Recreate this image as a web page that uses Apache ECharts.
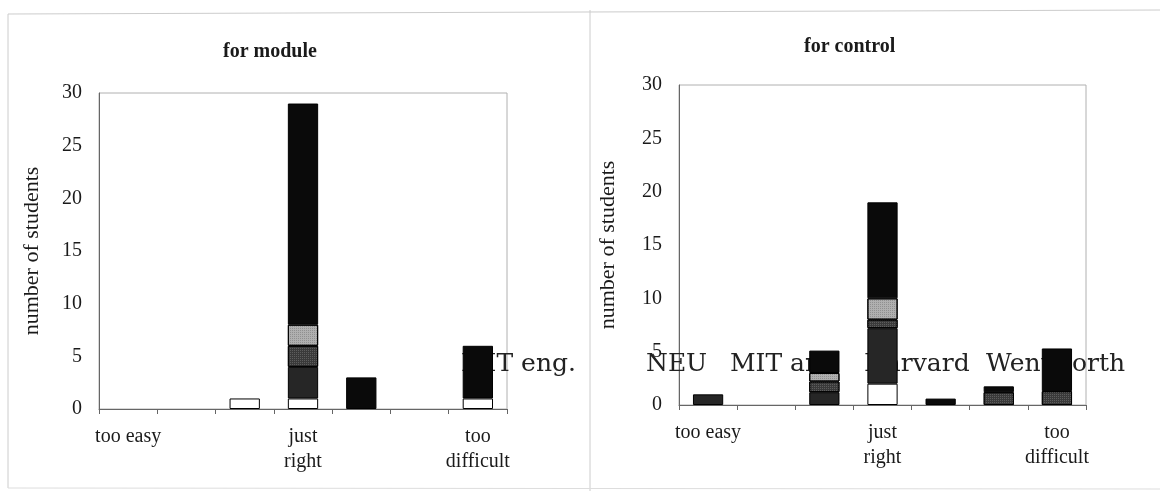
<!DOCTYPE html>
<html>
<head>
<meta charset="utf-8">
<script src="https://cdn.jsdelivr.net/npm/echarts@6/dist/echarts.min.js"></script>
<style>
  html, body { margin: 0; padding: 0; background: #fff; }
  #chart { width: 1160px; height: 491px; }
</style>
</head>
<body>
<div id="chart"></div>
<script>
// 7-point scale, only three points carry a label
const categories = ['too easy', '', '', 'just\nright', '', '', 'too\ndifficult'];
const schools = ['MIT eng.', 'NEU', 'MIT arc', 'Harvard', 'Wentworth'];

// for module
const moduleMitEng = [0, 0, 1, 1, 0, 0, 1];
const moduleNeu = [0, 0, 0, 3, 0, 0, 0];
const moduleMitArc = [0, 0, 0, 2, 0, 0, 0];
const moduleHarvard = [0, 0, 0, 2, 0, 0, 0];
const moduleWentworth = [0, 0, 0, 21, 3, 0, 5];

// for control
const controlMitEng = [0, 0, 0, 2, 0, 0, 0];
const controlNeu = [1, 0, 1.2, 5.2, 0, 0, 0];
const controlMitArc = [0, 0, 1, 0.8, 0, 1.2, 1.3];
const controlHarvard = [0, 0, 0.8, 2, 0, 0, 0];
const controlWentworth = [0, 0, 2.1, 9, 0.6, 0.55, 4];

const yTicks = [0, 5, 10, 15, 20, 25, 30];

const moduleData = [moduleMitEng, moduleNeu, moduleMitArc, moduleHarvard, moduleWentworth];
const controlData = [controlMitEng, controlNeu, controlMitArc, controlHarvard, controlWentworth];

const fills = ['#ffffff', '#262626', '#3a3a3a', '#b0b0b0', '#0a0a0a'];
const stipple = [null, null,
  { symbol: 'rect', symbolSize: 1, dashArrayX: [1, 1], dashArrayY: [1, 1], color: 'rgba(255,255,255,0.18)' },
  { symbol: 'rect', symbolSize: 1, dashArrayX: [1, 1], dashArrayY: [1, 1], color: 'rgba(0,0,0,0.18)' },
  null];
const legendLeft = [450, 635, 719, 853, 975];

const serif = 'Liberation Serif';
const ink = '#1a1a1a';

function makeSeries(data, panel) {
  return data.map((vals, i) => {
    const itemStyle = { color: fills[i], borderColor: '#000', borderWidth: 1 };
    if (stipple[i]) itemStyle.decal = stipple[i];
    return {
      name: schools[i],
      type: 'bar',
      stack: 'p' + panel,
      xAxisIndex: panel,
      yAxisIndex: panel,
      barWidth: '52%',
      z: 3,
      itemStyle: itemStyle,
      data: vals.map(v => (v === 0 ? '-' : v))
    };
  });
}

function makeX(idx) {
  return {
    type: 'category',
    gridIndex: idx,
    data: categories,
    axisLine: { lineStyle: { color: '#666' } },
    axisTick: { show: true, length: 5, interval: 0, lineStyle: { color: '#666' } },
    axisLabel: { interval: 0, margin: 15, fontFamily: serif, fontSize: 20, lineHeight: 25, color: ink }
  };
}

function makeY(idx, gap) {
  return {
    type: 'value',
    gridIndex: idx,
    min: yTicks[0],
    max: yTicks[yTicks.length - 1],
    interval: 5,
    name: 'number of students',
    nameLocation: 'middle',
    nameGap: gap,
    nameTextStyle: { fontFamily: serif, fontSize: 22, color: ink },
    axisLine: { show: true, lineStyle: { color: '#666' } },
    axisTick: { show: false },
    splitLine: { show: false },
    axisLabel: { margin: 17, fontFamily: serif, fontSize: 20, color: ink }
  };
}

const chart = echarts.init(document.getElementById('chart'));
chart.setOption({
  animation: false,
  backgroundColor: '#fff',
  title: [
    { text: 'for module', left: 218, top: 37,
      textStyle: { fontFamily: serif, fontWeight: 'bold', fontSize: 20, color: ink } },
    { text: 'for control', left: 799, top: 32,
      textStyle: { fontFamily: serif, fontWeight: 'bold', fontSize: 20, color: ink } }
  ],
  legend: schools.map((s, i) => ({
    data: [s],
    left: legendLeft[i],
    top: 347,
    z: 1,
    itemWidth: 0,
    itemHeight: 0,
    selectedMode: false,
    textStyle: { fontFamily: 'DejaVu Serif', fontSize: 25, color: '#222' }
  })),
  grid: [
    { left: 99, right: 653, top: 93, bottom: 82, show: true, borderColor: '#b0b0b0', borderWidth: 1 },
    { left: 679, right: 74, top: 85, bottom: 86, show: true, borderColor: '#b0b0b0', borderWidth: 1 }
  ],
  xAxis: [makeX(0), makeX(1)],
  yAxis: [makeY(0, 56), makeY(1, 60)],
  series: makeSeries(moduleData, 0).concat(makeSeries(controlData, 1)),
  graphic: [
    { type: 'polyline', shape: { points: [[8, 488], [8, 14], [1160, 10]] }, style: { stroke: '#cccccc', fill: null, lineWidth: 1 } },
    { type: 'line', shape: { x1: 590, y1: 10, x2: 590, y2: 491 }, style: { stroke: '#cccccc', lineWidth: 1 } },
    { type: 'line', shape: { x1: 8, y1: 488, x2: 1160, y2: 489 }, style: { stroke: '#dddddd', lineWidth: 1 } }
  ]
});
</script>
</body>
</html>
